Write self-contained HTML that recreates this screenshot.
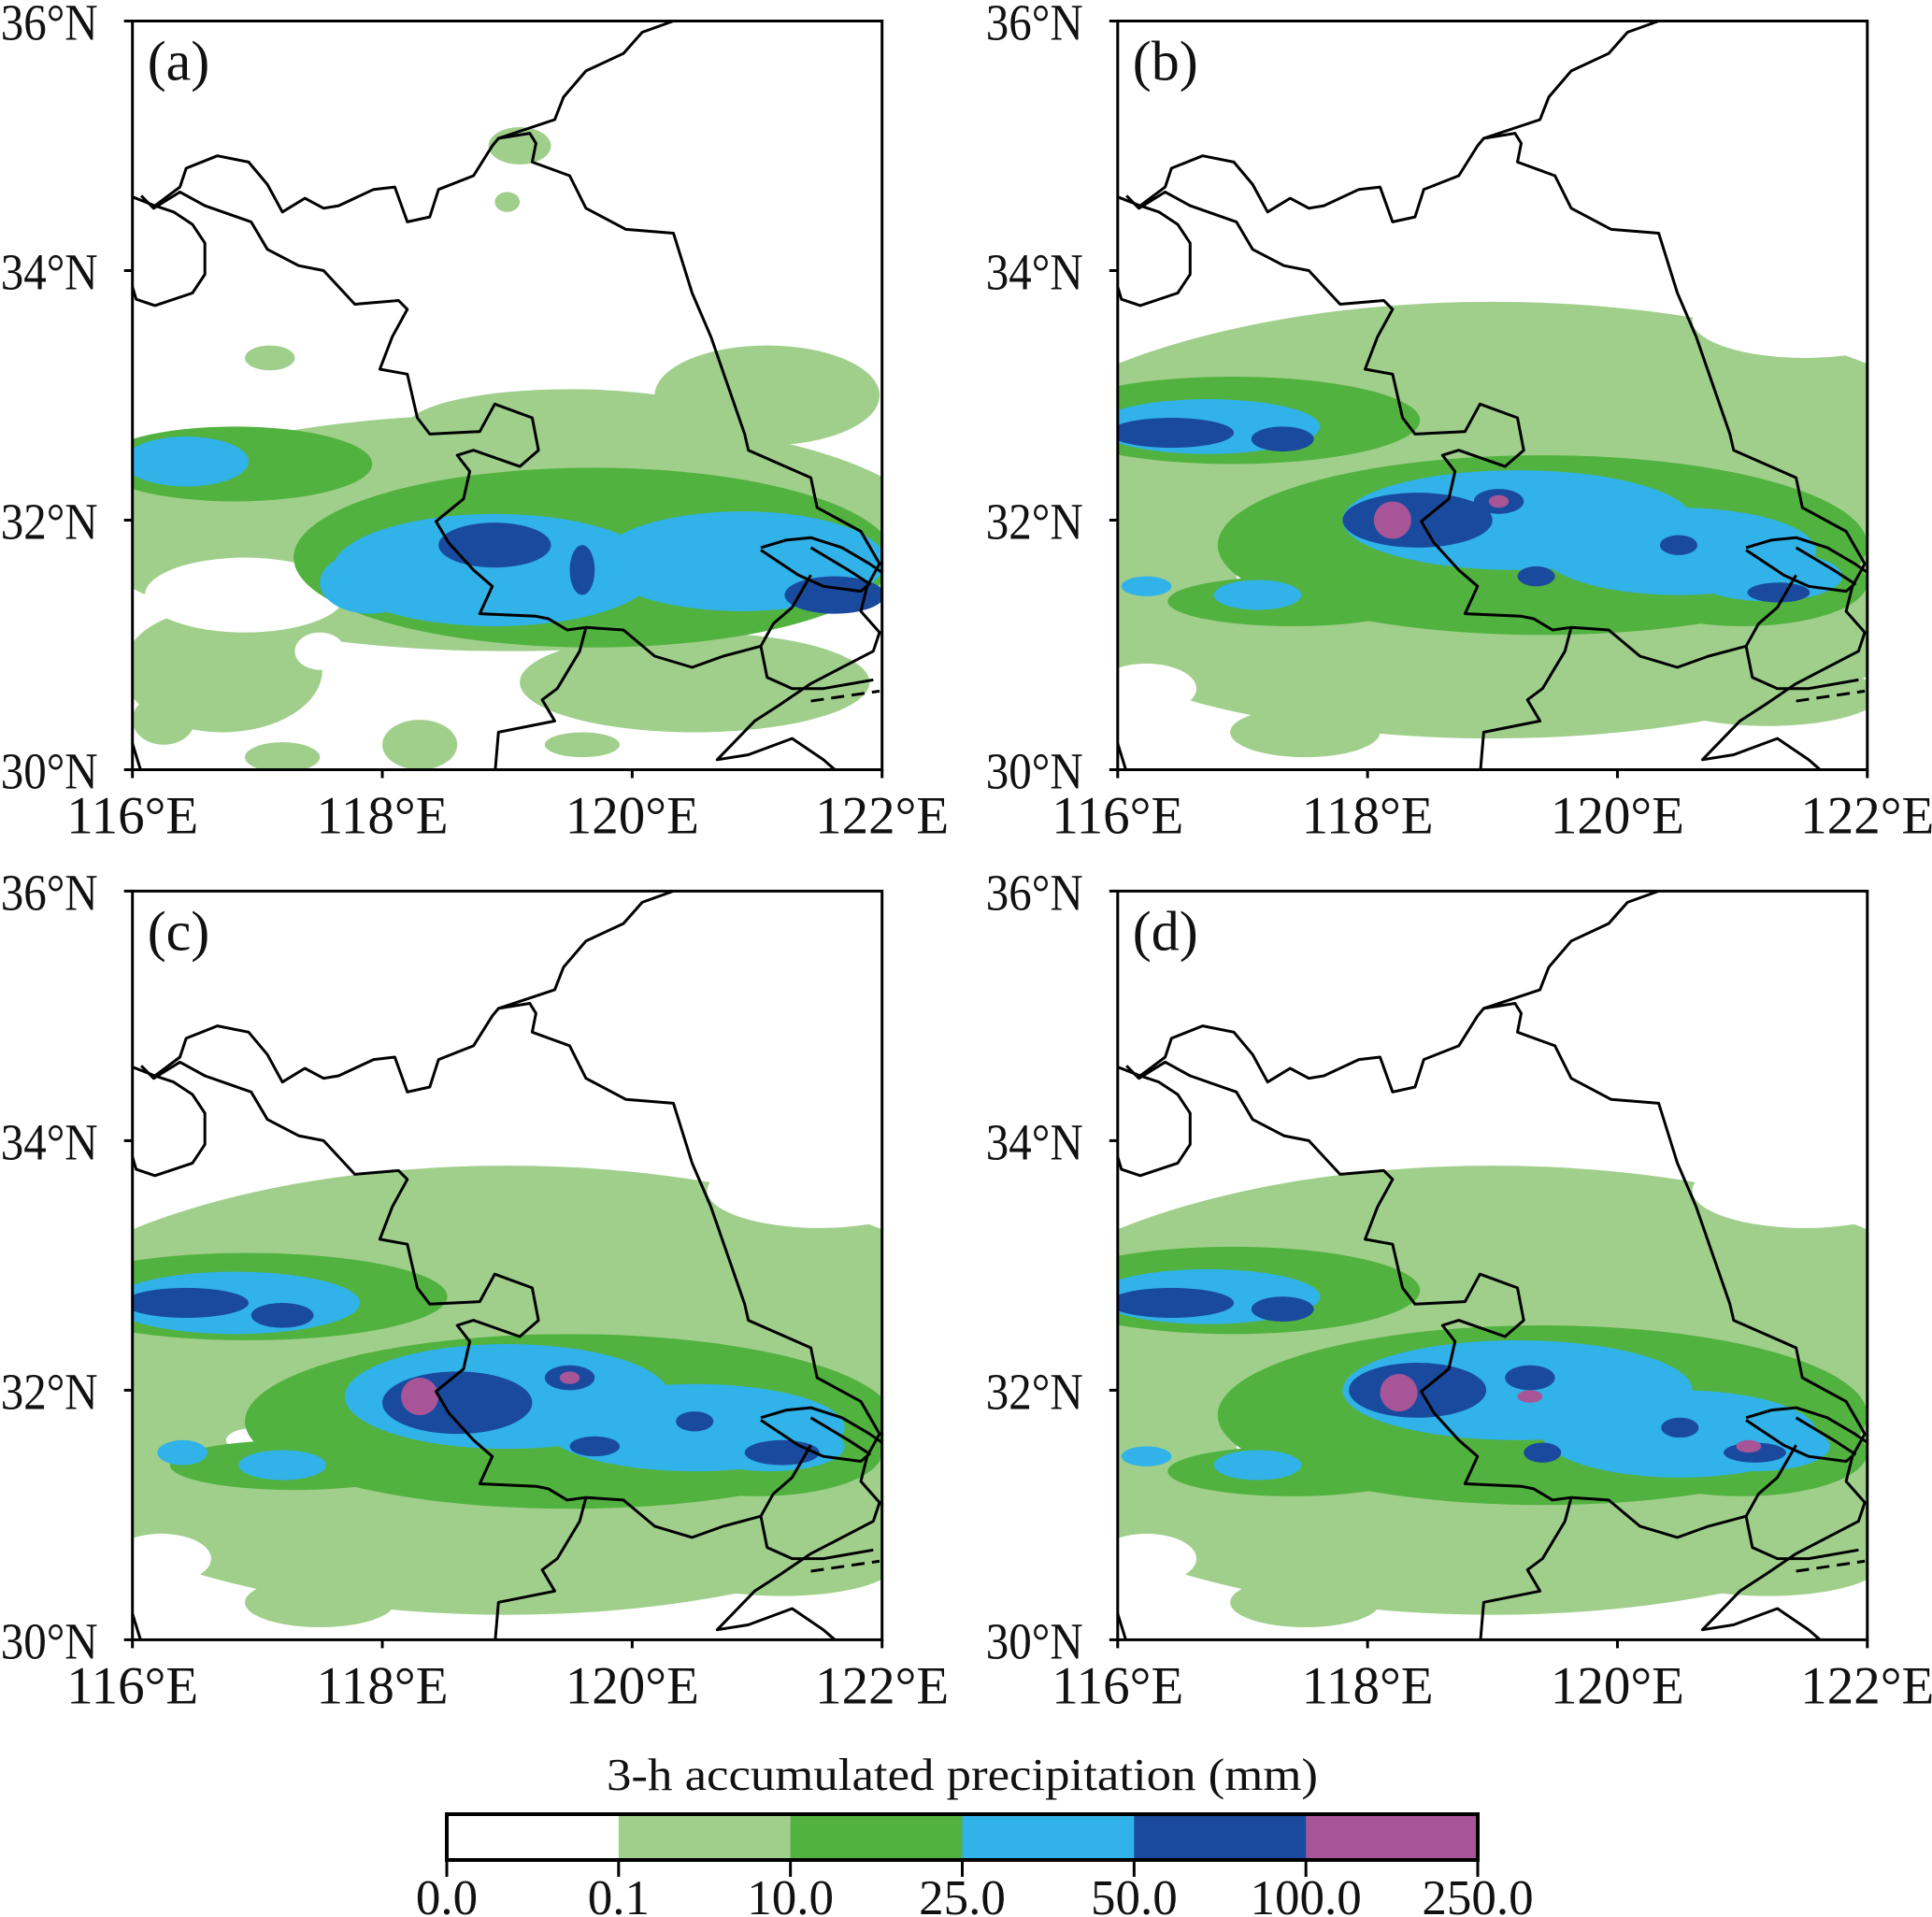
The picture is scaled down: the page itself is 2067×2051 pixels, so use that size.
<!DOCTYPE html>
<html><head><meta charset="utf-8"><style>html,body{margin:0;padding:0;background:#fff}svg{display:block}</style></head>
<body>
<svg id="fig" width="2067" height="2051" viewBox="0 0 2067 2051" xmlns="http://www.w3.org/2000/svg" font-family="'Liberation Serif', serif"></svg>
<script>
// Level colours: 0 white, 1 light green, 2 green, 3 blue, 4 dark blue, 5 magenta
const levelColors = ['#ffffff','#a0cf8c','#52b23f','#31b2e8','#1a4a9e','#a85598'];
const levelLabels = ['0.0','0.1','10.0','25.0','50.0','100.0','250.0'];
const lonTicks = [116,118,120,122];
const latTicks = [30,32,34,36];
const panelLetters = ['(a)','(b)','(c)','(d)'];
// precipitation blobs: [lon, lat, lonRadius, latRadius, level]
const blobsA = [
 [119.0,31.9,3.4,0.95,1],[121.08,33.0,0.9,0.4,1],[119.5,32.75,1.3,0.3,1],[116.72,30.8,0.8,0.5,1],[120.5,30.7,1.4,0.4,1],
 [118.3,30.2,0.3,0.2,1],[117.2,30.1,0.3,0.12,1],[116.25,30.4,0.25,0.2,1],[119.1,35.0,0.25,0.15,1],[119.0,34.55,0.1,0.08,1],[117.1,33.3,0.2,0.1,1],[119.6,30.2,0.3,0.1,1],
 [116.9,31.4,0.8,0.3,0],[117.5,30.95,0.2,0.15,0],
 [116.82,32.45,1.1,0.3,2],[119.69,31.7,2.4,0.72,2],
 [116.43,32.47,0.5,0.2,3],[118.9,31.6,1.3,0.45,3],[120.88,31.67,1.15,0.4,3],[117.9,31.5,0.4,0.25,3],
 [118.9,31.8,0.45,0.18,4],[119.6,31.6,0.1,0.2,4],[121.62,31.4,0.4,0.15,4]
];
const blobsB = [
 [119.0,32.0,4.3,1.75,1],[121.2,30.6,0.9,0.25,1],[117.5,30.3,0.6,0.2,1],
 [116.23,30.65,0.4,0.2,0],[117.15,31.55,0.2,0.08,0],[121.5,33.6,0.9,0.3,0],[116.2,30.35,0.3,0.3,0],
 [116.92,32.8,1.5,0.35,2],[119.4,31.8,2.6,0.72,2],[117.4,31.35,1.0,0.2,2],[121.0,31.5,1.0,0.35,2],
 [116.72,32.75,0.9,0.22,3],[119.2,32.0,1.4,0.4,3],[120.49,31.75,1.1,0.35,3],[116.23,31.47,0.2,0.08,3],[117.12,31.4,0.35,0.12,3],[121.2,31.55,0.6,0.2,3],
 [116.43,32.7,0.5,0.12,4],[117.32,32.65,0.25,0.1,4],[118.4,32.0,0.6,0.22,4],[119.05,32.15,0.2,0.1,4],[119.35,31.55,0.15,0.08,4],[120.49,31.8,0.15,0.08,4],[121.29,31.42,0.25,0.08,4],
 [118.2,32.0,0.15,0.15,5],[119.05,32.15,0.08,0.05,5]
];
const blobsC = [
 [119.0,32.0,4.3,1.8,1],[121.2,30.6,0.9,0.25,1],[117.5,30.3,0.6,0.2,1],
 [116.23,30.65,0.4,0.2,0],[117.0,31.6,0.25,0.1,0],[121.5,33.6,0.9,0.3,0],[116.2,30.35,0.3,0.3,0],
 [116.92,32.75,1.6,0.35,2],[119.5,31.75,2.6,0.7,2],[117.3,31.4,1.0,0.2,2],[121.0,31.5,1.0,0.35,2],
 [116.82,32.7,1.0,0.25,3],[119.0,31.95,1.3,0.42,3],[120.5,31.7,1.2,0.35,3],[116.4,31.5,0.2,0.1,3],[117.2,31.4,0.35,0.12,3],[121.1,31.55,0.6,0.2,3],
 [116.43,32.7,0.5,0.12,4],[117.2,32.6,0.25,0.1,4],[118.6,31.9,0.6,0.25,4],[119.5,32.1,0.2,0.1,4],[119.7,31.55,0.2,0.08,4],[120.5,31.75,0.15,0.08,4],[121.2,31.5,0.3,0.1,4],
 [118.3,31.95,0.15,0.15,5],[119.5,32.1,0.08,0.05,5]
];
const blobsD = [
 [119.0,32.0,4.3,1.8,1],[121.2,30.6,0.9,0.25,1],[117.5,30.3,0.6,0.2,1],
 [116.23,30.65,0.4,0.2,0],[117.15,31.55,0.2,0.08,0],[121.5,33.6,0.9,0.3,0],[116.2,30.35,0.3,0.3,0],
 [116.92,32.8,1.5,0.35,2],[119.4,31.8,2.6,0.72,2],[117.4,31.35,1.0,0.2,2],[121.0,31.5,1.0,0.35,2],
 [116.72,32.75,0.9,0.22,3],[119.2,32.0,1.4,0.4,3],[120.5,31.65,1.1,0.35,3],[116.23,31.47,0.2,0.08,3],[117.12,31.4,0.35,0.12,3],[121.1,31.55,0.6,0.2,3],
 [116.43,32.7,0.5,0.12,4],[117.32,32.65,0.25,0.1,4],[118.4,32.0,0.55,0.22,4],[119.3,32.1,0.2,0.1,4],[119.4,31.5,0.15,0.08,4],[120.5,31.7,0.15,0.08,4],[121.1,31.5,0.25,0.08,4],
 [118.25,31.98,0.15,0.15,5],[119.3,31.95,0.1,0.05,5],[121.05,31.55,0.1,0.05,5]
];
const panelBlobs = [blobsA, blobsB, blobsC, blobsD];
// borders in hundredths of a degree: [east of 116E, south of 36N]
const borders = [
 [[0,141],[18,148],[38,133],[43,118],[68,108],[93,113],[108,131],[120,153],[138,142],[153,150],[165,148],[193,135],[210,133],[220,161],[238,157],[245,135],[273,124],[288,100],[293,94],[318,90],[323,98],[320,113],[350,124],[363,150],[395,167],[433,170],[448,218],[463,253],[490,331],[493,344],[543,366],[548,390],[583,409],[598,435],[588,453],[583,473],[598,490],[593,505],[543,531],[518,548],[498,561],[468,592],[493,588],[528,575],[553,592],[568,605]],
 [[293,94],[338,79],[345,61],[363,40],[393,26],[408,9],[433,0]],
 [[7,140],[17,150],[38,137],[58,148],[95,161],[108,183],[133,196],[153,200],[178,227],[213,224],[220,231],[208,253],[198,279],[220,283],[228,318],[238,331],[278,329],[290,307],[320,318],[325,344],[310,357],[273,344],[260,348],[270,361],[265,383],[243,401],[253,418],[273,440],[288,453],[278,475],[323,477],[333,479],[348,488],[363,486],[393,488],[418,509],[448,518],[473,509],[488,505],[503,501],[513,483],[528,470],[543,444]],
 [[363,486],[358,505],[340,535],[328,544],[338,561],[293,570],[290,605]],
 [[503,501],[508,526],[528,535],[553,535],[593,528]],
 [[0,213],[3,223],[18,228],[48,218],[58,203],[58,178],[48,163],[33,153],[18,148]],
 [[503,422],[523,416],[543,414],[568,422],[590,435],[603,444]],
 [[503,424],[533,444],[553,453],[583,457],[590,451],[573,440],[543,422]],
 [[0,579],[8,605]],
 [[60,601],[83,605]]
];
const LON0=116,LON1=122,LAT0=30,LAT1=36;
const panels = [{x:141.7,y:22.5},{x:1195.8,y:22.5},{x:141.7,y:953.4},{x:1195.8,y:953.4}];
const PW=802, PH=801;
const NS='http://www.w3.org/2000/svg';
const svg=document.getElementById('fig');
function mk(tag,attrs,parent){const e=document.createElementNS(NS,tag);for(const k in attrs)e.setAttribute(k,attrs[k]);(parent||svg).appendChild(e);return e;}
panels.forEach((p,pi)=>{
 const xs=lon=>p.x+(lon-LON0)/(LON1-LON0)*PW;
 const ys=lat=>p.y+(LAT1-lat)/(LAT1-LAT0)*PH;
 const g=mk('g',{});
 
 
 mk('clipPath',{id:'clip'+pi},g);
 mk('rect',{x:p.x,y:p.y,width:PW,height:PH},g.lastChild);
 const field=mk('g',{'clip-path':'url(#clip'+pi+')'},g);
 
 
 panelBlobs[pi].forEach(b=>{
  const e=mk('ellipse',{cx:xs(b[0]),cy:ys(b[1]),rx:Math.abs(xs(b[0]+b[2])-xs(b[0])),ry:Math.abs(ys(b[1]+b[3])-ys(b[1])),fill:levelColors[b[4]]},field);
  
  
 });
 borders.forEach((line,li)=>{
  const pts=line.map(q=>xs(LON0+q[0]/100).toFixed(1)+','+ys(LAT1-q[1]/100).toFixed(1)).join(' ');
  const pl=mk('polyline',{points:pts,fill:'none',stroke:'#000','stroke-width':3,'stroke-linejoin':'round'},field);
  
  
 });
 const dash=mk('polyline',{points:xs(LON0+5.43)+','+ys(LAT1-5.45)+' '+xs(LON0+5.98)+','+ys(LAT1-5.37),fill:'none',stroke:'#000','stroke-width':3,'stroke-dasharray':'14 8'},field);
 
 
 const fr=mk('rect',{x:p.x,y:p.y,width:PW,height:PH,fill:'none',stroke:'#000','stroke-width':3},g);
 
 
 lonTicks.forEach(t=>{
  const x=xs(t);
  const tk=mk('line',{x1:x,x2:x,y1:p.y+PH,y2:p.y+PH+9,stroke:'#000','stroke-width':3},g);
  
  
  const tx=mk('text',{x:x,y:p.y+PH+68,'font-size':57,'text-anchor':'middle',fill:'#111'},g);
  tx.textContent=t+'°E';
  
  
 });
 latTicks.forEach(t=>{
  const y=ys(t);
  const tk=mk('line',{x1:p.x-9,x2:p.x,y1:y,y2:y,stroke:'#000','stroke-width':3},g);
  
  
  const tx=mk('text',{x:p.x-37,y:y+20,'font-size':55,'text-anchor':'end',fill:'#111',textLength:104,lengthAdjust:'spacingAndGlyphs'},g);
  tx.textContent=t+'°N';
  
  
 });
 const lt=mk('text',{x:p.x+16,y:p.y+63,'font-size':60,fill:'#111'},g);
 lt.textContent=panelLetters[pi];
 
 
});
// colorbar
const CB={x:478,y:1941,w:1103,h:49};
const cb=mk('g',{});


const ttl=mk('text',{x:CB.x+CB.w/2,y:1915,'font-size':49,'text-anchor':'middle',fill:'#111',textLength:761,lengthAdjust:'spacingAndGlyphs'},cb);
ttl.textContent='3-h accumulated precipitation (mm)';


const nseg=levelColors.length;
levelColors.forEach((c,i)=>{
 const r=mk('rect',{x:CB.x+i*CB.w/nseg,y:CB.y,width:CB.w/nseg+0.5,height:CB.h,fill:c},cb);
 
 
});
const cbf=mk('rect',{x:CB.x,y:CB.y,width:CB.w,height:CB.h,fill:'none',stroke:'#000','stroke-width':4},cb);


levelLabels.forEach((l,i)=>{
 const x=CB.x+i*CB.w/nseg;
 const tk=mk('line',{x1:x,x2:x,y1:CB.y+CB.h,y2:CB.y+CB.h+18,stroke:'#000','stroke-width':3},cb);
 
 
 const t=mk('text',{x:x,y:2048,'font-size':53,'text-anchor':'middle',fill:'#111'},cb);
 t.textContent=l;
 
 
});
</script>
</body></html>
